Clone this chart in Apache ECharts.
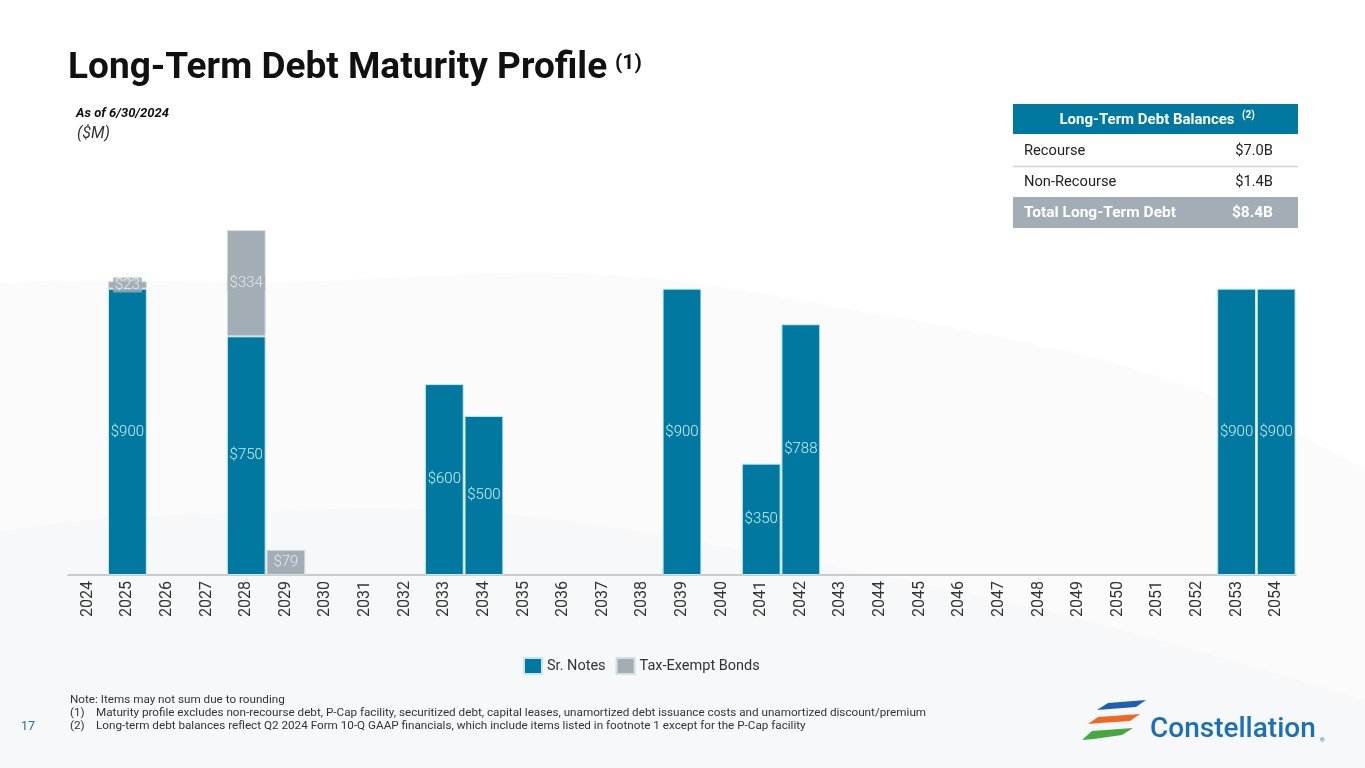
<!DOCTYPE html>
<html>
<head>
<meta charset="utf-8">
<script src="https://cdn.jsdelivr.net/npm/echarts@6/dist/echarts.min.js"></script>
<style>
html,body{margin:0;padding:0;background:#fff;}
#chart{width:1365px;height:768px;}
</style>
</head>
<body>
<div id="chart"></div>
<script>
const years = ['2024','2025','2026','2027','2028','2029','2030','2031','2032','2033','2034','2035','2036','2037','2038','2039','2040','2041','2042','2043','2044','2045','2046','2047','2048','2049','2050','2051','2052','2053','2054'];
const srNotes = [null,900,null,null,750,null,null,null,null,600,500,null,null,null,null,900,null,350,788,null,null,null,null,null,null,null,null,null,null,900,900];
const taxExempt = [null,23,null,null,334,79,null,null,null,null,null,null,null,null,null,null,null,null,null,null,null,null,null,null,null,null,null,null,null,null,null];
const tableRows = [['Recourse','$7.0B'],['Non-Recourse','$1.4B']];
const tableTotal = ['Total Long-Term Debt','$8.4B'];
const footnotes = ['Note: Items may not sum due to rounding',
  'Maturity profile excludes non-recourse debt, P-Cap facility, securitized debt, capital leases, unamortized debt issuance costs and unamortized discount/premium',
  'Long-term debt balances reflect Q2 2024 Form 10-Q GAAP financials, which include items listed in footnote 1 except for the P-Cap facility'];

const TEAL = '#00789f', GRAY = '#a3adb5', EDGE = '#c3e8f2', LBL = '#c9f0fa';
const FF = 'Roboto, "Noto Sans", sans-serif';
const chart = echarts.init(document.getElementById('chart'));

const graphics = [
  // faint background swooshes
  {type:'polygon', z:-10, shape:{smooth:0.4, points:[[-200,360],[350,280],[800,300],[1365,470],[1600,768],[-200,800]]}, style:{fill:'rgba(240,241,243,0.25)'}},
  {type:'polygon', z:-9, shape:{smooth:0.4, points:[[-200,600],[300,510],[800,560],[1365,700],[1600,800],[-200,800]]}, style:{fill:'rgba(236,238,240,0.25)'}},
  {type:'text', left:68, top:50, style:{text:'Long-Term Debt Maturity Profile', font:'bold 37px ' + FF, fill:'#111'}},
  {type:'text', left:615, top:53, style:{text:'(1)', font:'bold 21px ' + FF, fill:'#111'}},
  {type:'text', left:76, top:107, style:{text:'As of 6/30/2024', font:'italic bold 13px ' + FF, fill:'#111'}},
  {type:'text', left:77, top:126, style:{text:'($M)', font:'italic 16px ' + FF, fill:'#333'}},
  // table
  {type:'rect', shape:{x:1013,y:104,width:285,height:30}, style:{fill:TEAL}},
  {type:'text', x:1147, y:120, style:{text:'Long-Term Debt Balances', font:'bold 15px ' + FF, fill:'#fff', align:'center', verticalAlign:'middle'}},
  {type:'text', x:1242, y:115, style:{text:'(2)', font:'bold 10px ' + FF, fill:'#fff', align:'left', verticalAlign:'middle'}},
  {type:'line', shape:{x1:1013,y1:166.5,x2:1298,y2:166.5}, style:{stroke:'#cfd3d6', lineWidth:1.5}},
  {type:'rect', shape:{x:1013,y:197,width:285,height:31}, style:{fill:GRAY}},
  {type:'text', x:1024, y:213, style:{text:tableTotal[0], font:'bold 15.5px ' + FF, fill:'#fff', verticalAlign:'middle'}},
  {type:'text', x:1273, y:213, style:{text:tableTotal[1], font:'bold 15.5px ' + FF, fill:'#fff', align:'right', verticalAlign:'middle'}},
  // footnotes
  {type:'text', left:70, top:694, style:{text:footnotes[0], font:'11.7px ' + FF, fill:'#333'}},
  {type:'text', left:70, top:707, style:{text:'(1)', font:'11.7px ' + FF, fill:'#333'}},
  {type:'text', left:96, top:707, style:{text:footnotes[1], font:'11.7px ' + FF, fill:'#333'}},
  {type:'text', left:70, top:720, style:{text:'(2)', font:'11.7px ' + FF, fill:'#333'}},
  {type:'text', left:96, top:720, style:{text:footnotes[2], font:'11.7px ' + FF, fill:'#333'}},
  {type:'text', left:21, top:720, style:{text:'17', font:'12.5px ' + FF, fill:'#1a6fa8'}},
  // logo
  {type:'polygon', shape:{points:[[1097,710],[1108,703],[1146,700],[1136,707],[1110,709]]}, style:{fill:'#1f5fae'}},
  {type:'polygon', shape:{points:[[1088,724],[1098,717],[1140,714],[1130,721],[1100,723]]}, style:{fill:'#ee6a23'}},
  {type:'polygon', shape:{points:[[1082,740],[1092,731],[1133,728],[1122,735],[1094,739]]}, style:{fill:'#45a843'}},
  {type:'text', left:1150, top:716, style:{text:'Constellation', font:'500 28px ' + FF, fill:'#1a6fb5'}},
  {type:'text', left:1320, top:737, style:{text:'®', font:'6px ' + FF, fill:'#1a6fb5'}}
];
tableRows.forEach((r,i)=>{
  const y = 151 + i*31.5;
  graphics.push({type:'text', x:1024, y:y, style:{text:r[0], font:'14.7px ' + FF, fill:'#222', verticalAlign:'middle'}});
  graphics.push({type:'text', x:1273, y:y, style:{text:r[1], font:'14.7px ' + FF, fill:'#222', align:'right', verticalAlign:'middle'}});
});

// labels for the tax-exempt segments, placed at the middle of each segment (small ones overflow their bar)
const taxLabelPts = [];
taxExempt.forEach((v,i)=>{ if (v != null) taxLabelPts.push({value:[i, (srNotes[i]||0) + v/2], raw:v}); });

chart.setOption({
  backgroundColor:'#ffffff',
  animation:false,
  graphic: graphics,
  grid:{left:68, right:69, top:225, bottom:193, containLabel:false},
  legend:{
    top:652, left:518, itemWidth:18, itemHeight:16, itemGap:10,
    icon:'rect',
    textStyle:{fontSize:14.5, color:'#333', fontFamily:FF},
    data:['Sr. Notes','Tax-Exempt Bonds']
  },
  xAxis:{
    type:'category', data:years,
    axisLine:{lineStyle:{color:'#bbb', width:1.5}},
    axisTick:{show:false},
    axisLabel:{rotate:90, fontSize:16, color:'#333', margin:6, fontFamily:FF, interval:0}
  },
  yAxis:{type:'value', min:0, max:1100, show:false, splitLine:{show:false}},
  series:[
    {name:'Sr. Notes', type:'bar', stack:'d', data:srNotes, barCategoryGap:'2%', z:2,
     itemStyle:{color:TEAL, borderColor:EDGE, borderWidth:1},
     label:{show:true, position:'inside', formatter:p=>'$'+p.value, color:LBL, fontSize:15, fontWeight:300, fontFamily:FF}},
    {name:'Tax-Exempt Bonds', type:'bar', stack:'d', data:taxExempt, barCategoryGap:'2%', z:3,
     itemStyle:{color:GRAY, borderColor:'#d8dde0', borderWidth:1},
     label:{show:false}},
    {name:'taxLabels', type:'scatter', data:taxLabelPts, symbolSize:0, zlevel:1, silent:true,
     label:{show:true, position:'inside', formatter:p=>'$'+p.data.raw, color:'#f4f6f7', fontSize:15, fontWeight:300, fontFamily:FF,
            backgroundColor:GRAY, padding:[0,2]},
     labelLayout:{hideOverlap:false}}
  ]
});
</script>
</body>
</html>
